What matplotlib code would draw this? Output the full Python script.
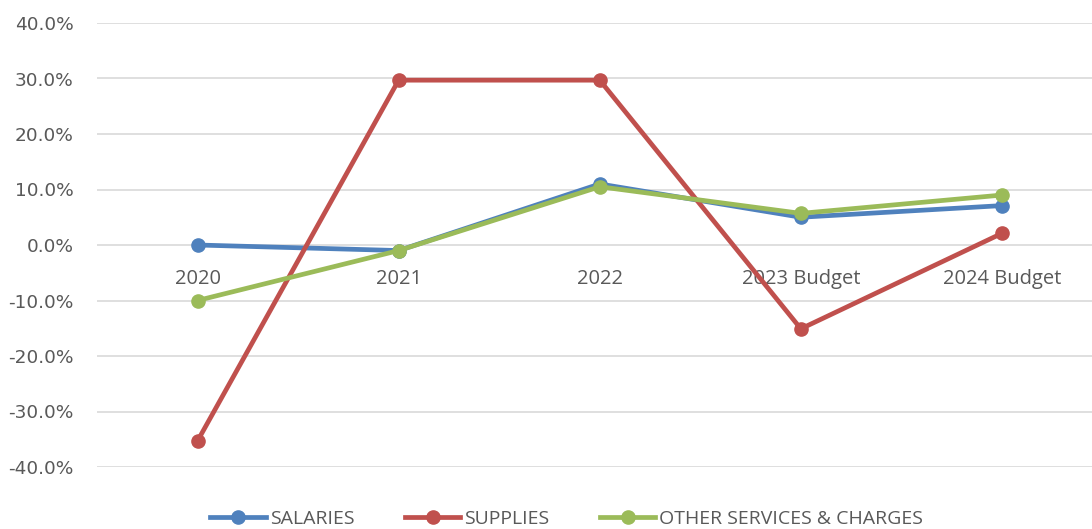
import matplotlib.pyplot as plt
from matplotlib.ticker import FuncFormatter

# Year-over-year change by expense category
categories = ["2020", "2021", "2022", "2023 Budget", "2024 Budget"]
salaries = [0.0, -1.0, 11.0, 5.0, 7.1]
supplies = [-35.3, 29.7, 29.7, -15.1, 2.1]
other_services = [-10.0, -1.0, 10.5, 5.7, 9.0]
series_names = ["SALARIES", "SUPPLIES", "OTHER SERVICES & CHARGES"]
colors = ["#4F81BD", "#C0504D", "#9BBB59"]

W, H = 1092, 529
fig = plt.figure(figsize=(W / 100, H / 100), dpi=100)
ax = fig.add_axes([97 / W, (H - 467) / H, (W - 97) / W, 444 / H])

x = list(range(len(categories)))
for vals, name, c in zip([salaries, supplies, other_services], series_names, colors):
    ax.plot(x, vals, color=c, lw=3.4, marker="o", markersize=9.5,
            solid_joinstyle="round", label=name, zorder=3)

ax.set_ylim(-40, 40)
ax.set_yticks(range(-40, 41, 10))
ax.yaxis.set_major_formatter(FuncFormatter(lambda v, p: f"{v:.1f}%"))
ax.set_xlim(-0.5, 4.5 - 10.5 / 201)
ax.grid(axis="y", color="#D9D9D9", lw=1.2)
ax.set_axisbelow(True)

for s in ["top", "right", "left"]:
    ax.spines[s].set_visible(False)
ax.spines["bottom"].set_position(("data", 0))
ax.spines["bottom"].set_visible(False)

ax.set_xticks(x)
ax.set_xticklabels(categories, fontfamily="Open Sans", fontsize=14.5, color="#595959")
ax.tick_params(axis="x", length=0, pad=17)
ax.tick_params(axis="y", length=0, pad=17, labelsize=13.3, labelcolor="#595959")

leg = fig.legend(loc="center", bbox_to_anchor=(0.519, 10 / H), ncol=3, frameon=False,
                 prop={"family": "Open Sans", "size": 14}, handlelength=2.85,
                 columnspacing=2.6, handletextpad=0.2)
for t in leg.get_texts():
    t.set_color("#595959")

fig.savefig("out.png", dpi=100)
